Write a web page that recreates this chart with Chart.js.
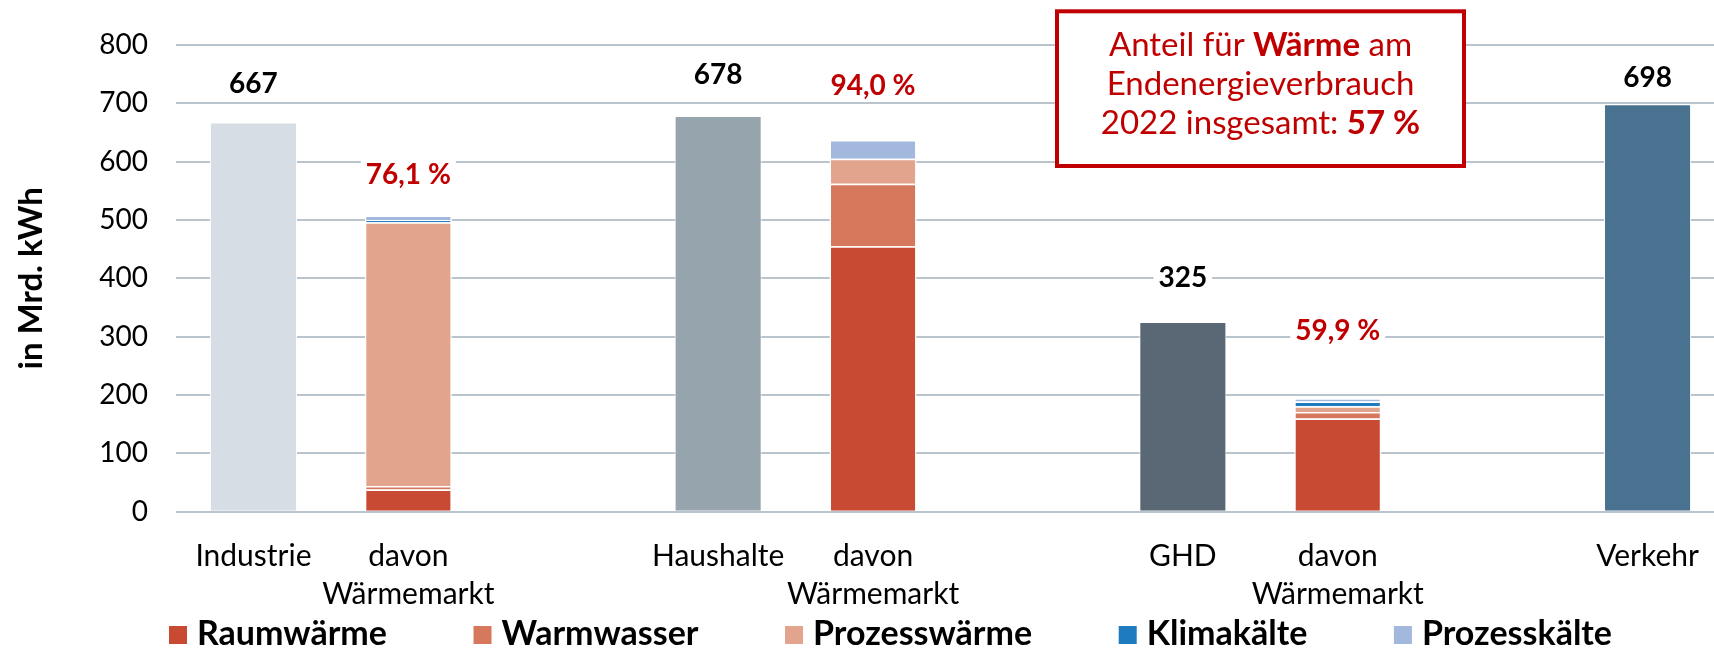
<!DOCTYPE html>
<html lang="de">
<head>
<meta charset="utf-8">
<title>Endenergieverbrauch 2022 – Wärmemarkt</title>
<script src="https://cdn.jsdelivr.net/npm/chart.js@4.4.1/dist/chart.umd.min.js"></script>
<style>
  html, body { margin: 0; padding: 0; background: #fff; overflow: hidden; }
  #wrap { position: relative; width: 1725px; height: 649px; }
</style>
</head>
<body>
<div id="wrap"><canvas id="chart"></canvas></div>
<script>
// ---- data ----
const categories = ['Industrie', ['davon', 'Wärmemarkt'], '', 'Haushalte', ['davon', 'Wärmemarkt'], '', 'GHD', ['davon', 'Wärmemarkt'], '', 'Verkehr'];
const sectorTotals  = [667, null, null, 678, null, null, 325, null, null, 698];
const raumwaerme    = [null, 38,   null, null, 455,  null, null, 160, null, null];
const warmwasser    = [null, 6,    null, null, 107,  null, null, 11,  null, null];
const prozesswaerme = [null, 452,  null, null, 43,   null, null, 10,  null, null];
const klimakaelte   = [null, 4,    null, null, 0,    null, null, 8,   null, null];
const prozesskaelte = [null, 7.6,  null, null, 31.8, null, null, 5.7, null, null];
const waermeShare   = [null, 76.1, null, null, 94.0, null, null, 59.9, null, null];
const seriesNames   = ['Raumwärme', 'Warmwasser', 'Prozesswärme', 'Klimakälte', 'Prozesskälte'];
const yTickValues   = [0, 100, 200, 300, 400, 500, 600, 700, 800];
const noteLines     = [
  [['Anteil für ', false], ['Wärme', true], [' am', false]],
  [['Endenergieverbrauch', false]],
  [['2022 insgesamt: ', false], ['57 %', true]]
];

// ---- styles ----
const FONT = 'Lato, "Open Sans", sans-serif';
const sectorColors = ['#d6dde4', null, null, '#96a4ae', null, null, '#596874', null, null, '#48728f'];
const seriesColors = ['#c84a32', '#d6785c', '#e2a48c', '#1f7bbf', '#a2b8dc'];
const RED = '#c00000';

const componentSeries = [raumwaerme, warmwasser, prozesswaerme, klimakaelte, prozesskaelte];

const datasets = [{
  label: 'Endenergieverbrauch',
  data: sectorTotals,
  backgroundColor: sectorColors,
  borderColor: '#ffffff',
  borderWidth: 1,
  borderSkipped: 'start',
  inLegend: false
}].concat(componentSeries.map((arr, i) => ({
  label: seriesNames[i],
  data: arr,
  backgroundColor: seriesColors[i],
  borderColor: '#ffffff',
  borderWidth: 1.5,
  borderSkipped: 'start',
  inLegend: true
})));

// value labels above bars (with white background like the original)
const valueLabels = {
  id: 'valueLabels',
  afterDatasetsDraw(chart, args, o) {
    const { ctx, scales: { x, y } } = chart;
    ctx.save();
    ctx.textAlign = 'center';
    ctx.textBaseline = 'middle';
    ctx.font = 'bold 28px ' + FONT;
    const drawLabel = (txt, px, py, color) => {
      const w = ctx.measureText(txt).width;
      ctx.fillStyle = '#ffffff';
      ctx.fillRect(px - w / 2 - 5, py - 15, w + 10, 30);
      ctx.fillStyle = color;
      ctx.fillText(txt, px, py);
    };
    let k = 0;
    sectorTotals.forEach((v, i) => {
      if (v == null) return;
      drawLabel(String(v), x.getPixelForValue(i), y.getPixelForValue(v) - o.totalOffsets[k++], '#000000');
    });
    k = 0;
    waermeShare.forEach((s, i) => {
      if (s == null) return;
      const stackTop = componentSeries.reduce((a, arr) => a + (arr[i] || 0), 0);
      const txt = s.toFixed(1).replace('.', ',') + ' %';
      drawLabel(txt, x.getPixelForValue(i), y.getPixelForValue(stackTop) - o.shareOffsets[k++], RED);
    });
    ctx.restore();
  }
};

// legend drawn below the axis
const bottomLegend = {
  id: 'bottomLegend',
  afterDraw(chart, args, o) {
    const ctx = chart.ctx;
    const items = chart.data.datasets.filter(d => d.inLegend);
    ctx.save();
    ctx.font = 'bold 34px ' + FONT;
    ctx.textBaseline = 'alphabetic';
    ctx.textAlign = 'left';
    const widths = items.map(d => o.box + o.boxGap + ctx.measureText(d.label).width);
    const total = widths.reduce((a, b) => a + b, 0);
    const gap = (o.endX - o.startX - total) / (items.length - 1);
    let x = o.startX;
    items.forEach((d, i) => {
      ctx.fillStyle = d.backgroundColor;
      ctx.fillRect(x, o.boxTop, o.box, o.box);
      ctx.fillStyle = '#000000';
      ctx.fillText(d.label, x + o.box + o.boxGap, o.baseline);
      x += widths[i] + gap;
    });
    ctx.restore();
  }
};

// framed note
const noteBox = {
  id: 'noteBox',
  afterDraw(chart, args, o) {
    const ctx = chart.ctx;
    ctx.save();
    ctx.fillStyle = '#ffffff';
    ctx.fillRect(o.left, o.top, o.width, o.height);
    ctx.strokeStyle = RED;
    ctx.lineWidth = 4;
    ctx.strokeRect(o.left, o.top, o.width, o.height);
    ctx.fillStyle = RED;
    ctx.textBaseline = 'alphabetic';
    ctx.textAlign = 'left';
    const cx = o.left + o.width / 2;
    noteLines.forEach((parts, li) => {
      const fonts = parts.map(p => (p[1] ? 'bold ' : '') + '33px ' + FONT);
      const ws = parts.map((p, j) => { ctx.font = fonts[j]; return ctx.measureText(p[0]).width; });
      let x = cx - ws.reduce((a, b) => a + b, 0) / 2;
      parts.forEach((p, j) => {
        ctx.font = fonts[j];
        ctx.fillText(p[0], x, o.baselines[li]);
        x += ws[j];
      });
    });
    ctx.restore();
  }
};

new Chart(document.getElementById('chart'), {
  type: 'bar',
  data: { labels: categories, datasets },
  options: {
    responsive: true,
    maintainAspectRatio: false,
    animation: false,
    layout: { padding: { top: 38.6, right: 0, bottom: 11, left: 0 } },
    datasets: { bar: { barPercentage: 0.562, categoryPercentage: 1.0 } },
    scales: {
      x: {
        stacked: true,
        grid: { display: false, drawTicks: false },
        border: { display: false },
        ticks: {
          autoSkip: false, maxRotation: 0, minRotation: 0,
          padding: 25,
          color: '#000000',
          font: { family: FONT, size: 30, lineHeight: 1.27 }
        }
      },
      y: {
        stacked: true,
        min: 0, max: 800,
        afterBuildTicks(scale) { scale.ticks = yTickValues.map(v => ({ value: v })); },
        afterFit(scale) { scale.width = 176; },
        grid: { color: '#bac4cc', lineWidth: 2, drawTicks: false },
        border: { display: false },
        ticks: {
          padding: 28,
          color: '#000000',
          font: { family: FONT, size: 28 }
        },
        title: {
          display: true,
          text: 'in Mrd. kWh',
          color: '#000000',
          font: { family: FONT, size: 33, weight: 'bold' },
          padding: { top: 12, bottom: 0 }
        }
      }
    },
    plugins: {
      legend: { display: false },
      tooltip: { enabled: false },
      valueLabels: { totalOffsets: [38, 41, 44, 26], shareOffsets: [41, 54, 67] },
      bottomLegend: { startX: 169, endX: 1612, box: 18, boxGap: 10, boxTop: 626, baseline: 645 },
      noteBox: { left: 1057, top: 11.3, width: 407, height: 154.7, baselines: [55.5, 94.5, 133.5] }
    }
  },
  plugins: [valueLabels, bottomLegend, noteBox]
});
</script>
</body>
</html>
